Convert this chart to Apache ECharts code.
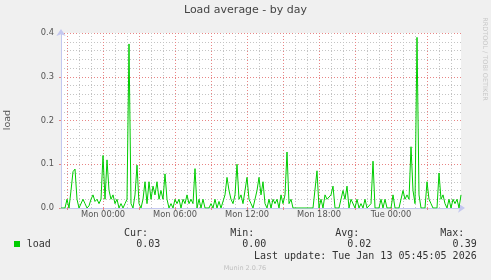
<!DOCTYPE html>
<html><head><meta charset="utf-8">
<script src="https://cdn.jsdelivr.net/npm/echarts@6/dist/echarts.min.js"></script>
<style>html,body{margin:0;padding:0;background:#f0f0f0}#c{width:491px;height:280px}</style>
</head><body><div id="c"></div>
<script>
// time axis: samples every 10 minutes starting Sun 20:30
const startMinutes = 20 * 60 + 30;
const stepMinutes = 10;
const dayNames = ['Sun', 'Mon', 'Tue'];
const tickLabels = ['Mon 00:00', 'Mon 06:00', 'Mon 12:00', 'Mon 18:00', 'Tue 00:00'];
const yTicks = [0, 0.1, 0.2, 0.3, 0.4];

const loadValues = [
  0, 0, 0, 0.02, 0, 0.04, 0.083, 0.089, 0.02, 0,
  0, 0.02, 0.01, 0, 0.005, 0.02, 0.03, 0.015, 0.02, 0.01,
  0.02, 0.12, 0.02, 0.11, 0.04, 0.02, 0.03, 0.01, 0.02, 0,
  0.01, 0, 0.01, 0.02, 0.375, 0.01, 0, 0.03, 0.098, 0.01,
  0, 0.02, 0.06, 0.01, 0.06, 0.02, 0.05, 0.03, 0.06, 0.02,
  0.04, 0.02, 0.078, 0.02, 0, 0.01, 0, 0.02, 0.01, 0.02,
  0, 0.02, 0.01, 0.03, 0.01, 0.02, 0.01, 0.09, 0, 0.02,
  0, 0.02, 0, 0, 0, 0.01, 0, 0.02, 0, 0.015,
  0, 0, 0.03, 0.07, 0.04, 0.02, 0.01, 0.03, 0.10, 0.02,
  0.03, 0.01, 0.04, 0.07, 0.02, 0.01, 0, 0, 0.04, 0.07,
  0.03, 0.06, 0.01, 0, 0.02, 0, 0.02, 0.01, 0.02, 0,
  0.03, 0.01, 0.03, 0.128, 0.01, 0.02, 0, 0, 0, 0,
  0, 0, 0, 0, 0, 0, 0, 0, 0.085, 0,
  0.02, 0, 0.03, 0.02, 0.02, 0.03, 0.05, 0, 0, 0,
  0.02, 0.04, 0.02, 0.05, 0, 0.02, 0.02, 0, 0.02, 0,
  0.01, 0, 0.02, 0, 0, 0.01, 0.107, 0, 0, 0,
  0.02, 0, 0.02, 0, 0, 0, 0.03, 0, 0, 0,
  0, 0.04, 0.02, 0.03, 0.02, 0.14, 0.04, 0.01, 0.39, 0.03,
  0, 0, 0, 0.06, 0.02, 0.01, 0, 0, 0, 0.08,
  0.02, 0.03, 0.01, 0, 0.02, 0, 0.02, 0.01, 0.02, 0,
  0.03
];

const seriesName = 'load';
const statNames = ['Cur:', 'Min:', 'Avg:', 'Max:'];
const statValues = ['0.03', '0.00', '0.02', '0.39'];
const lastUpdate = 'Last update: Tue Jan 13 05:45:05 2026';
const titleText = 'Load average - by day';

function pad(n) { return (n < 10 ? '0' : '') + n; }
const minutesAt = i => startMinutes + i * stepMinutes;
const categories = loadValues.map((v, i) => {
  const m = minutesAt(i);
  const d = Math.floor(m / 1440), mm = m % 1440;
  return dayNames[d] + ' ' + pad(Math.floor(mm / 60)) + ':' + pad(mm % 60);
});

const axisCol = '#c4c8f0';
const redGrid = '#e88585';
const grayGrid = '#c4c4c4';
const FONT = 'DejaVu Sans';
const MONO = 'DejaVu Sans Mono';

const chart = echarts.init(document.getElementById('c'), null, { renderer: 'canvas' });

const graphics = [
  { type: 'text', left: 'center', top: 5, style: { text: titleText, font: '11px "' + FONT + '"', fill: '#444' } },
  { type: 'text', x: 8, y: 120, rotation: Math.PI / 2, style: { text: 'load', font: '9.5px "' + FONT + '"', fill: '#555', align: 'center', verticalAlign: 'middle' } },
  { type: 'text', x: 484.5, y: 59, rotation: -Math.PI / 2, style: { text: 'RRDTOOL / TOBI OETIKER', font: '6.5px "' + FONT + '"', fill: '#c8c8c8', align: 'center', verticalAlign: 'middle' } },
  { type: 'rect', shape: { x: 14, y: 241, width: 6, height: 6 }, style: { fill: '#00cc00' } },
  { type: 'text', x: 26.7, y: 244.3, style: { text: seriesName, font: '10px "' + MONO + '"', fill: '#333', align: 'left', verticalAlign: 'middle' } },
  { type: 'text', x: 476.7, y: 256.3, style: { text: lastUpdate, font: '10px "' + MONO + '"', fill: '#333', align: 'right', verticalAlign: 'middle' } },
  { type: 'text', x: 245, y: 268.5, style: { text: 'Munin 2.0.76', font: '6.5px "' + FONT + '"', fill: '#c0c0c0', align: 'center', verticalAlign: 'middle' } }
];
const statRight = [148, 254.3, 359.3, 464.3];
const valRight = [160.3, 266.3, 371.3, 476.7];
statNames.forEach((s, k) => {
  graphics.push({ type: 'text', x: statRight[k], y: 233, style: { text: s, font: '10px "' + MONO + '"', fill: '#333', align: 'right', verticalAlign: 'middle' } });
  graphics.push({ type: 'text', x: valRight[k], y: 244.3, style: { text: statValues[k], font: '10px "' + MONO + '"', fill: '#333', align: 'right', verticalAlign: 'middle' } });
});

chart.setOption({
  animation: false,
  backgroundColor: '#f0f0f0',
  grid: { left: 61, right: 30, top: 33, bottom: 72, show: true, backgroundColor: '#ffffff', borderWidth: 0 },
  xAxis: [
    {
      type: 'category', data: categories, boundaryGap: false,
      axisLine: { show: true, lineStyle: { color: axisCol, width: 1 }, symbol: ['none', 'arrow'], symbolSize: [7, 7], symbolOffset: [0, 4] },
      axisTick: { show: true, length: 2, lineStyle: { color: redGrid }, interval: (i) => minutesAt(i) % 180 === 0 },
      axisLabel: {
        show: true, margin: 3, fontFamily: FONT, fontSize: 8.3, color: '#555',
        interval: (i) => minutesAt(i) % 360 === 0,
        formatter: (v) => tickLabels.indexOf(v) >= 0 ? v : ''
      },
      splitLine: { show: true, interval: (i) => minutesAt(i) % 180 === 0, lineStyle: { color: redGrid, type: [1, 2], width: 1 } },
      z: 3
    },
    {
      type: 'category', data: categories, boundaryGap: false, position: 'bottom',
      axisLine: { show: false }, axisTick: { show: false }, axisLabel: { show: false },
      splitLine: { show: true, interval: (i) => minutesAt(i) % 60 === 0 && minutesAt(i) % 180 !== 0, lineStyle: { color: grayGrid, type: [1, 2], width: 1 } }
    }
  ],
  yAxis: {
    type: 'value', min: 0, max: 0.4, interval: 0.1,
    axisLine: { show: true, lineStyle: { color: axisCol, width: 1 }, symbol: ['none', 'arrow'], symbolSize: [7, 7], symbolOffset: [0, 4] },
    axisTick: { show: true, length: 2, lineStyle: { color: redGrid } },
    axisLabel: { margin: 7, fontFamily: FONT, fontSize: 8.3, color: '#555', formatter: (v) => yTicks.indexOf(+v.toFixed(1)) >= 0 ? v.toFixed(1) : '' },
    splitLine: { show: true, lineStyle: { color: redGrid, type: [1, 2], width: 1 } },
    minorTick: { show: false, splitNumber: 5 },
    minorSplitLine: { show: true, lineStyle: { color: grayGrid, type: [1, 2], width: 1 } }
  },
  series: [{
    name: seriesName, type: 'line', data: loadValues, xAxisIndex: 0,
    showSymbol: false, symbol: 'none',
    lineStyle: { color: '#00cc00', width: 1 }, z: 5
  }],
  graphic: graphics
});
</script>
</body></html>
